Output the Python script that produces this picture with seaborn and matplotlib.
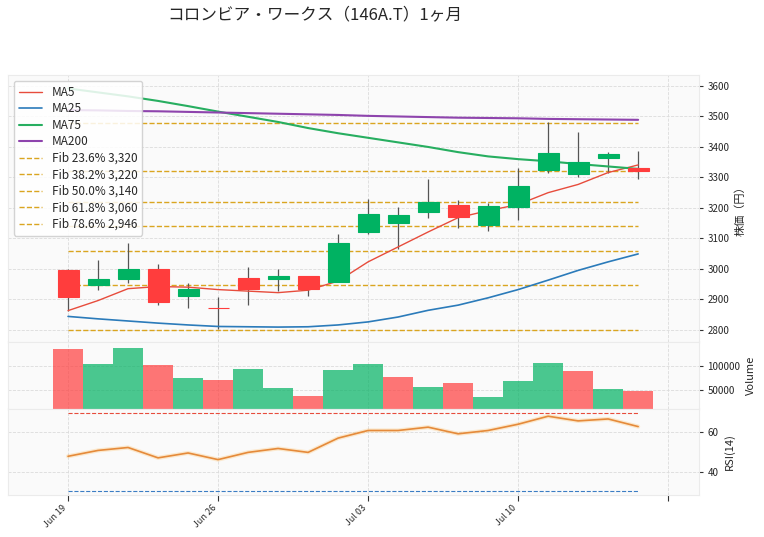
import matplotlib
matplotlib.use("Agg")
import matplotlib.pyplot as plt
import seaborn as sns
import pandas as pd
import numpy as np

# trading days shown on the chart
dates = ["2025-06-19", "2025-06-20", "2025-06-23", "2025-06-24", "2025-06-25",
         "2025-06-26", "2025-06-27", "2025-06-30", "2025-07-01", "2025-07-02",
         "2025-07-03", "2025-07-04", "2025-07-07", "2025-07-08", "2025-07-09",
         "2025-07-10", "2025-07-11", "2025-07-14", "2025-07-15", "2025-07-16"]

opens = [2997, 2948, 2967, 3000, 2912, 2872, 2970, 2966, 2977, 2958,
         3120, 3152, 3188, 3209, 3143, 3204, 3324, 3310, 3365, 3330]
highs = [2998, 3030, 3086, 3016, 2953, 2907, 3006, 2999, 2978, 3115,
         3230, 3204, 3295, 3225, 3215, 3330, 3481, 3448, 3385, 3387]
lows = [2863, 2931, 2953, 2881, 2871, 2802, 2881, 2928, 2911, 2957,
        3115, 3065, 3166, 3133, 3124, 3161, 3314, 3303, 3314, 3294]
closes = [2909, 2967, 3000, 2890, 2933, 2870, 2935, 2977, 2935, 3085,
          3181, 3178, 3219, 3170, 3207, 3272, 3379, 3350, 3377, 3322]

ma5 = [2863, 2896, 2935, 2942, 2940, 2932, 2927, 2922, 2930, 2960,
       3023, 3072, 3121, 3168, 3191, 3211, 3250, 3277, 3316, 3341]
ma25 = [2844, 2836, 2829, 2822, 2816, 2811, 2810, 2809, 2810, 2816,
        2826, 2842, 2864, 2881, 2905, 2932, 2963, 2995, 3023, 3049]
ma75 = [3592, 3579, 3566, 3551, 3534, 3516, 3499, 3482, 3462, 3445,
        3430, 3415, 3400, 3383, 3369, 3360, 3353, 3344, 3336, 3328]
ma200 = [3521, 3520, 3518, 3517, 3515, 3513, 3511, 3509, 3507, 3505,
         3502, 3500, 3498, 3496, 3495, 3494, 3492, 3491, 3490, 3489]

volumes = [135000, 104000, 137000, 102000, 75000, 71000, 94000, 55000, 38000, 92000,
           104000, 77000, 57000, 65000, 36000, 69000, 106000, 90000, 53000, 49000]
vol_up = [False, True, True, False, True, False, True, True, False, True,
          True, False, True, False, True, True, True, False, True, False]

rsi = [47.8, 50.8, 52.3, 47.0, 49.5, 46.1, 49.8, 51.8, 49.8, 57.1,
       61.0, 61.0, 62.7, 59.3, 61.0, 64.2, 68.3, 65.9, 66.9, 63.0]

fib_levels = [3480, 3320, 3220, 3140, 3060, 2946, 2800]
fib_labels = [None, "Fib 23.6% 3,320", "Fib 38.2% 3,220", "Fib 50.0% 3,140",
              "Fib 61.8% 3,060", "Fib 78.6% 2,946", None]

df = pd.DataFrame({"date": pd.to_datetime(dates), "open": opens, "high": highs,
                   "low": lows, "close": closes, "volume": volumes, "rsi": rsi})
df["idx"] = np.arange(len(df))

UP = "#00b262"
DOWN = "#ff3d3d"

sns.set_theme(style="whitegrid")
plt.rcParams['font.family'] = ['Noto Sans CJK JP', 'DejaVu Sans']

fig = plt.figure(figsize=(7.64, 5.37), dpi=100)
ax_p = fig.add_axes([0.0105, 0.3631, 0.9045, 0.4972])
ax_v = fig.add_axes([0.0105, 0.2384, 0.9045, 0.1247], sharex=ax_p)
ax_r = fig.add_axes([0.0105, 0.0782, 0.9045, 0.1602], sharex=ax_p)

for ax in (ax_p, ax_v, ax_r):
    ax.set_facecolor("#fafafa")
    ax.grid(True, linestyle="--", color="#dcdcdc", linewidth=0.6)
    for sp in ax.spines.values():
        sp.set_color("#ebebeb")
        sp.set_linewidth(0.8)
    ax.yaxis.tick_right()
    ax.yaxis.set_label_position("right")
    ax.tick_params(axis="y", right=True, left=False, length=3, width=0.8,
                   color="#333333", labelsize=7, pad=3)

# candles
up = df["close"] >= df["open"]
cols = [UP if u else DOWN for u in up]
ax_p.vlines(df["idx"], df["low"], df["high"], color="#555555", linewidth=0.9, zorder=2)
body_bottom = np.minimum(df["open"], df["close"])
body_h = np.abs(df["close"] - df["open"])
ax_p.bar(df["idx"], body_h, bottom=body_bottom, width=0.7, color=cols,
         edgecolor=cols, linewidth=0.8, zorder=3)

# moving averages
sns.lineplot(x=df["idx"], y=ma5, ax=ax_p, color="#e74c3c", linewidth=1.0, label="MA5")
sns.lineplot(x=df["idx"], y=ma25, ax=ax_p, color="#2b7bba", linewidth=1.2, label="MA25")
sns.lineplot(x=df["idx"], y=ma75, ax=ax_p, color="#27ae60", linewidth=1.5, label="MA75")
sns.lineplot(x=df["idx"], y=ma200, ax=ax_p, color="#8e44ad", linewidth=1.5, label="MA200")

for lvl, lab in zip(fib_levels, fib_labels):
    ax_p.hlines(lvl, df["idx"].iloc[0], df["idx"].iloc[-1], colors="#DAA520",
                linestyles="--", linewidth=1.0, label=lab if lab else "_nolegend_", zorder=1)

ax_p.set_ylim(2760, 3636)
ax_p.set_ylabel("株価（円）", fontsize=8)
ax_p.set_xlabel("")
leg = ax_p.legend(loc="upper left", fontsize=8.5, frameon=True, facecolor="white",
                  edgecolor="#cccccc", framealpha=0.85, labelspacing=0.3)

# volume
vcols = [UP if u else DOWN for u in vol_up]
ax_v.bar(df["idx"], df["volume"], width=1.0, color=vcols, alpha=0.7,
         linewidth=0, zorder=2)
ax_v.set_ylim(11500, 149400)
ax_v.set_yticks([50000, 100000])
ax_v.set_yticklabels(["50000", "100000"])
ax_v.set_ylabel("Volume", fontsize=8)

# RSI
sns.lineplot(x=df["idx"], y=df["rsi"], ax=ax_r, color="#ffb347", linewidth=3, alpha=0.25)
sns.lineplot(x=df["idx"], y=df["rsi"], ax=ax_r, color="#e58a3a", linewidth=1.2)
ax_r.hlines(70, 0, 19, colors="#e74c3c", linestyles="--", linewidth=0.8)
ax_r.hlines(30, 0, 19, colors="#3b7dc4", linestyles="--", linewidth=0.8)
ax_r.set_ylim(28, 72)
ax_r.set_yticks([40, 60])
ax_r.set_ylabel("RSI(14)", fontsize=8)
ax_r.set_xlabel("")

tick_pos = [0, 5, 10, 15, 20]
tick_lab = [df["date"].iloc[i].strftime("%b %d") if i < len(df) else "" for i in tick_pos]
ax_r.set_xticks(tick_pos)
ax_r.set_xticklabels(tick_lab, rotation=45, ha="right", fontsize=6.5)
ax_r.tick_params(axis="x", bottom=True, length=4, width=0.8, color="#333333", pad=2)
ax_r.set_xlim(-2, 21.03)
for ax in (ax_p, ax_v):
    ax.tick_params(axis="x", labelbottom=False, bottom=False)
    ax.set_xlabel("")

fig.text(0.412, 0.972, "コロンビア・ワークス（146A.T）1ヶ月", ha="center", va="center", fontsize=12)

fig.savefig("out.png", dpi=100)
